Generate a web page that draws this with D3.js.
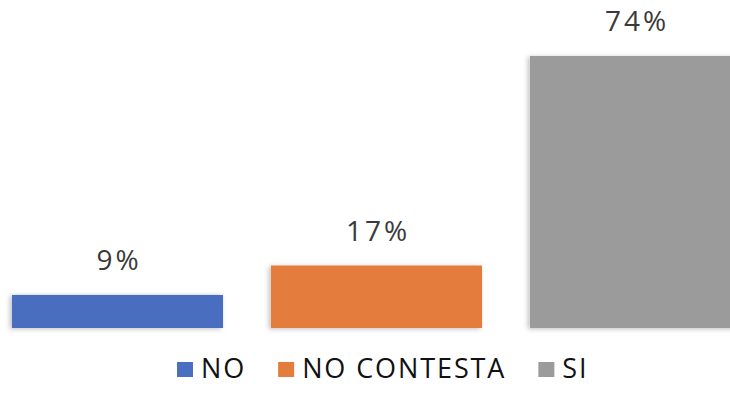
<!DOCTYPE html>
<html>
<head>
<meta charset="utf-8">
<script src="https://cdn.jsdelivr.net/npm/d3@7/dist/d3.min.js"></script>
<style>
  html, body { margin: 0; padding: 0; background: #fff; }
  svg { display: block; }
</style>
</head>
<body>
<svg id="chart" width="730" height="410"></svg>
<script>
const categories = ["NO", "NO CONTESTA", "SI"];
const values = [9, 17, 74];
const valueLabels = ["9%", "17%", "74%"];
const colors = ["#4A6EC0", "#E47C3D", "#9B9B9B"];

const svg = d3.select("#chart");

const defs = svg.append("defs");
const f = defs.append("filter").attr("id", "shadow")
  .attr("x", "-10%").attr("y", "-10%").attr("width", "120%").attr("height", "130%");
f.append("feDropShadow").attr("dx", -2).attr("dy", 1).attr("stdDeviation", 2.5)
  .attr("flood-color", "#000").attr("flood-opacity", 0.25);

const x = d3.scaleBand()
  .domain(categories)
  .range([-12, 765])
  .paddingInner(0.185)
  .paddingOuter(0.0925);

const y = d3.scaleLinear().domain([0, 74]).range([328, 56]);

const data = categories.map((c, i) => ({ c, v: values[i], label: valueLabels[i], color: colors[i] }));

svg.append("g").selectAll("rect")
  .data(data).join("rect")
  .attr("x", d => x(d.c))
  .attr("y", d => y(d.v))
  .attr("width", x.bandwidth())
  .attr("height", d => y(0) - y(d.v))
  .attr("fill", d => d.color)
  .attr("filter", "url(#shadow)");

svg.append("g").selectAll("text")
  .data(data).join("text")
  .attr("x", d => x(d.c) + x.bandwidth() / 2 + 1.5)
  .attr("y", d => y(d.v) - 25)
  .attr("text-anchor", "middle")
  .attr("font-family", "'Open Sans', sans-serif")
  .attr("font-size", 28)
  .attr("letter-spacing", 3)
  .attr("fill", "#3a3a3a")
  .text(d => d.label);

// legend
const lg = svg.append("g");
let cx = 177;
data.forEach((d, i) => {
  lg.append("rect")
    .attr("x", cx).attr("y", 362)
    .attr("width", 16).attr("height", 15)
    .attr("fill", d.color);
  const t = lg.append("text")
    .attr("x", cx + 24).attr("y", 378)
    .attr("font-family", "'Open Sans', sans-serif")
    .attr("font-size", 27)
    .attr("letter-spacing", 1.9)
    .attr("fill", "#111")
    .text(d.c);
  const w = t.node().getComputedTextLength();
  cx = cx + 24 + w + 32;
});
</script>
</body>
</html>
